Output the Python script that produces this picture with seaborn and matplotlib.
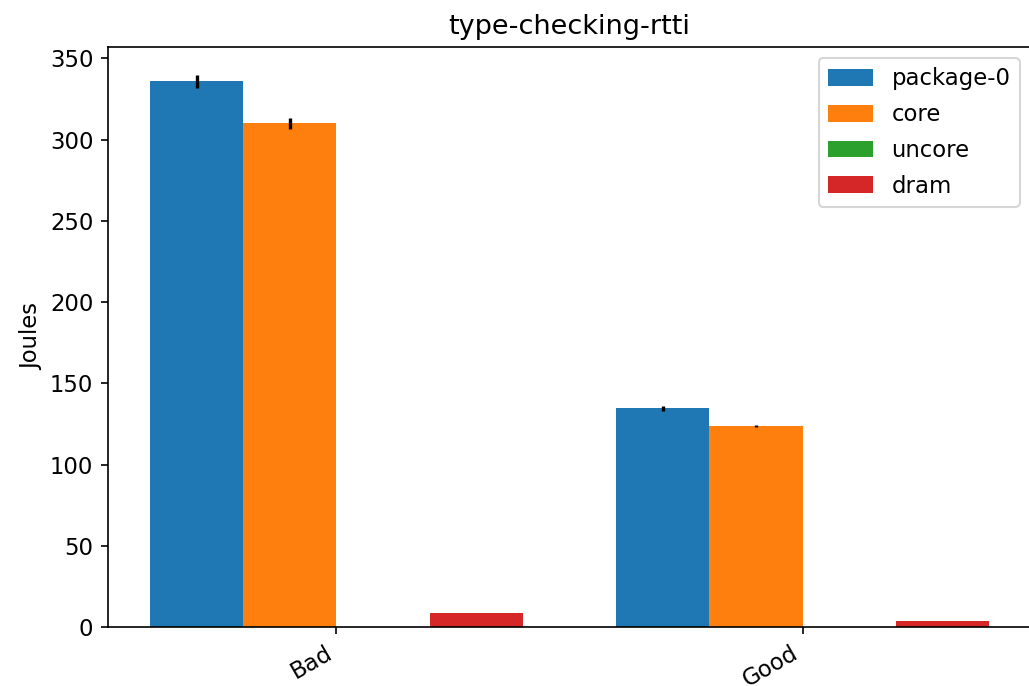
import matplotlib
matplotlib.use("Agg")
import matplotlib.pyplot as plt
import seaborn as sns
import pandas as pd

# Energy measurements per RAPL domain
tests = ["Bad", "Good"]
domains = ["package-0", "core", "uncore", "dram"]
bad_joules = [336.0, 310.0, 0.0, 8.5]
good_joules = [134.5, 123.5, 0.0, 3.5]
bad_err = [4.0, 3.6, 0.0, 0.0]
good_err = [1.3, 0.6, 0.0, 0.0]
colors = ["#1f77b4", "#ff7f0e", "#2ca02c", "#d62728"]

plt.rcParams["font.size"] = 10.9

rows = []
for test, vals, errs in [("Bad", bad_joules, bad_err), ("Good", good_joules, good_err)]:
    for dom, v, e in zip(domains, vals, errs):
        rows.append({"test": test, "domain": dom, "joules": v, "err": e})
df = pd.DataFrame(rows)

fig = plt.figure(figsize=(1029 / 150, 686 / 150), dpi=150)
ax = fig.add_axes([108 / 1029, 59 / 686, (1031 - 108) / 1029, (627 - 47) / 686])

sns.barplot(data=df, x="test", y="joules", hue="domain", order=tests,
            hue_order=domains, palette=colors, saturation=1, errorbar=None,
            width=0.8, ax=ax)

# error bars on top of each bar
for dom, cont in zip(domains, ax.containers):
    for test, bar in zip(tests, cont):
        row = df[(df.test == test) & (df.domain == dom)].iloc[0]
        if row.err > 0:
            ax.errorbar(bar.get_x() + bar.get_width() / 2, row.joules,
                        yerr=row.err, fmt="none", ecolor="black", lw=1.6)

ax.set_xlim(-0.49, 1.49)
ax.set_ylim(0, 357)
ax.set_xlabel("")
ax.set_ylabel("Joules", labelpad=3)
ax.set_title("type-checking-rtti", fontsize=13)
plt.setp(ax.get_xticklabels(), rotation=30, ha="right")

handles, labels = ax.get_legend_handles_labels()
ax.legend(handles, labels, loc="upper right", title=None,
          labelspacing=0.56, handleheight=0.75)

fig.savefig("out.png", dpi=150)
